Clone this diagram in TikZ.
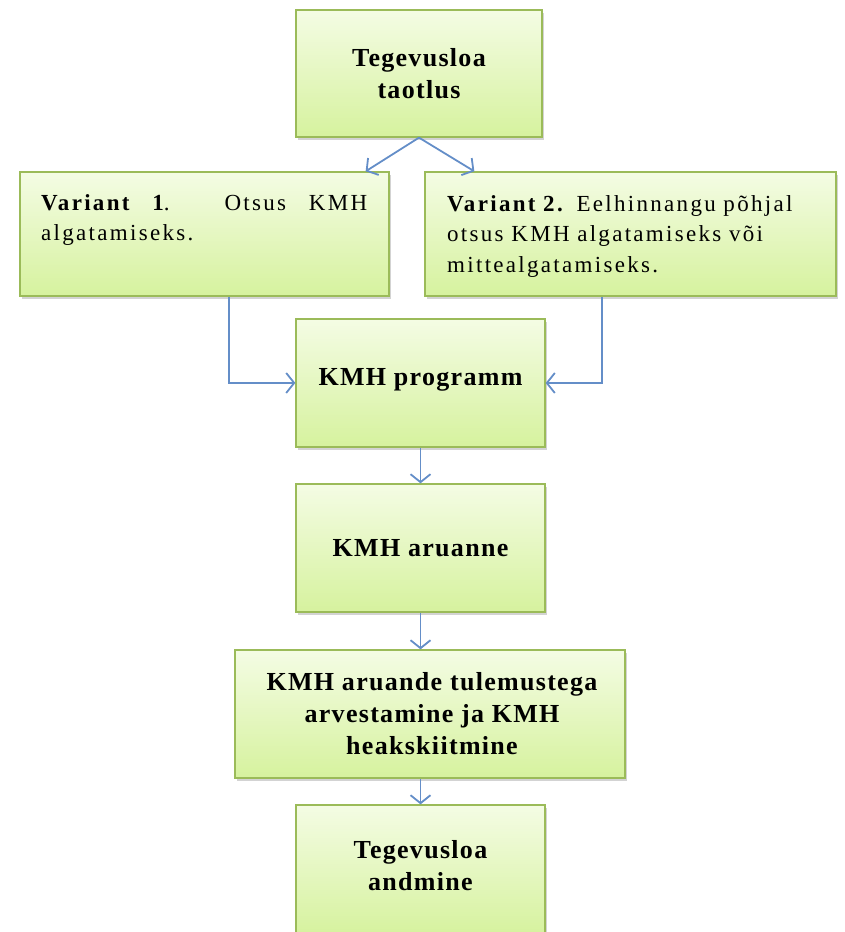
\documentclass[tikz,border=0pt]{standalone}
\usepackage{fontspec}
\setmainfont{Liberation Serif}
\newfontfamily\headfont[LetterSpace=5]{Liberation Serif}
\newfontfamily\bodyfont[LetterSpace=10]{Liberation Serif}
\usetikzlibrary{arrows.meta,shadows,calc}
\definecolor{boxtop}{RGB}{244,252,228}
\definecolor{boxbot}{RGB}{214,242,158}
\definecolor{boxline}{RGB}{155,187,89}
\definecolor{arrowblue}{RGB}{100,142,200}
\tikzset{
  flowbox/.style={rectangle, draw=boxline, line width=1.3pt, top color=boxtop, bottom color=boxbot,
    drop shadow={opacity=0.35, shadow xshift=1.5pt, shadow yshift=-3pt}, inner sep=0pt},
  headtext/.style={align=center, inner sep=0pt, font=\headfont\bfseries\fontsize{26}{32}\selectfont},
  bodytext/.style={inner sep=0pt, font=\bodyfont\fontsize{23}{30.5}\selectfont},
  conn/.style={draw=arrowblue, line width=1.8pt, -{Straight Barb[length=8pt,width=20pt,line width=1.8pt]}}
}
\begin{document}
\begin{tikzpicture}[x=1pt,y=1pt]
\useasboundingbox (0,0) rectangle (844,932);
% boxes
\node[flowbox, minimum width=246pt, minimum height=127pt] (t1) at (419,858.5) {};
\node[flowbox, minimum width=369pt, minimum height=124pt] (v1) at (204.5,698) {};
\node[flowbox, minimum width=411pt, minimum height=124pt] (v2) at (630.5,698) {};
\node[flowbox, minimum width=249pt, minimum height=128pt] (prog) at (420.5,549) {};
\node[flowbox, minimum width=249pt, minimum height=128pt] (rep) at (420.5,384) {};
\node[flowbox, minimum width=390pt, minimum height=128pt] (res) at (430,218) {};
\node[flowbox, minimum width=249pt, minimum height=130pt] (give) at (420.5,62) {};
% texts
\node[headtext] (t1txt) at (t1) {Tegevusloa\\taotlus};
\node[bodytext, anchor=north west, text width=326pt, align=justify] (v1txt) at (41,738)
  {\textbf{Variant 1}. Otsus KMH\linebreak algatamiseks.};
\node[bodytext, anchor=north west, text width=380pt, align=left] (v2txt) at (447,737)
  {\textbf{Variant 2.} Eelhinnangu põhjal\\otsus KMH algatamiseks või\\mittealgatamiseks.};
\node[headtext] (progtxt) at ($(prog)+(0,3)$) {KMH programm};
\node[headtext] (reptxt) at (rep) {KMH aruanne};
\node[headtext] (restxt) at ($(res)+(2,0)$) {KMH aruande tulemustega\\arvestamine ja KMH\\heakskiitmine};
\node[headtext] (givetxt) at ($(give)+(0,4)$) {Tegevusloa\\andmine};
% connectors
\draw[conn] (t1.south) -- ($(v1.north east)+(-24,0)$);
\draw[conn] (t1.south) -- ($(v2.north west)+(50,0)$);
\draw[conn] ($(v1.south west)+(210,0)$) |- (prog.west);
\draw[conn] ($(v2.south west)+(178,0)$) |- (prog.east);
\draw[conn] (prog.south) -- (rep.north);
\draw[conn] (rep.south) -- (res.north -| rep.south);
\draw[conn] (res.south -| give.north) -- (give.north);
\end{tikzpicture}
\end{document}
